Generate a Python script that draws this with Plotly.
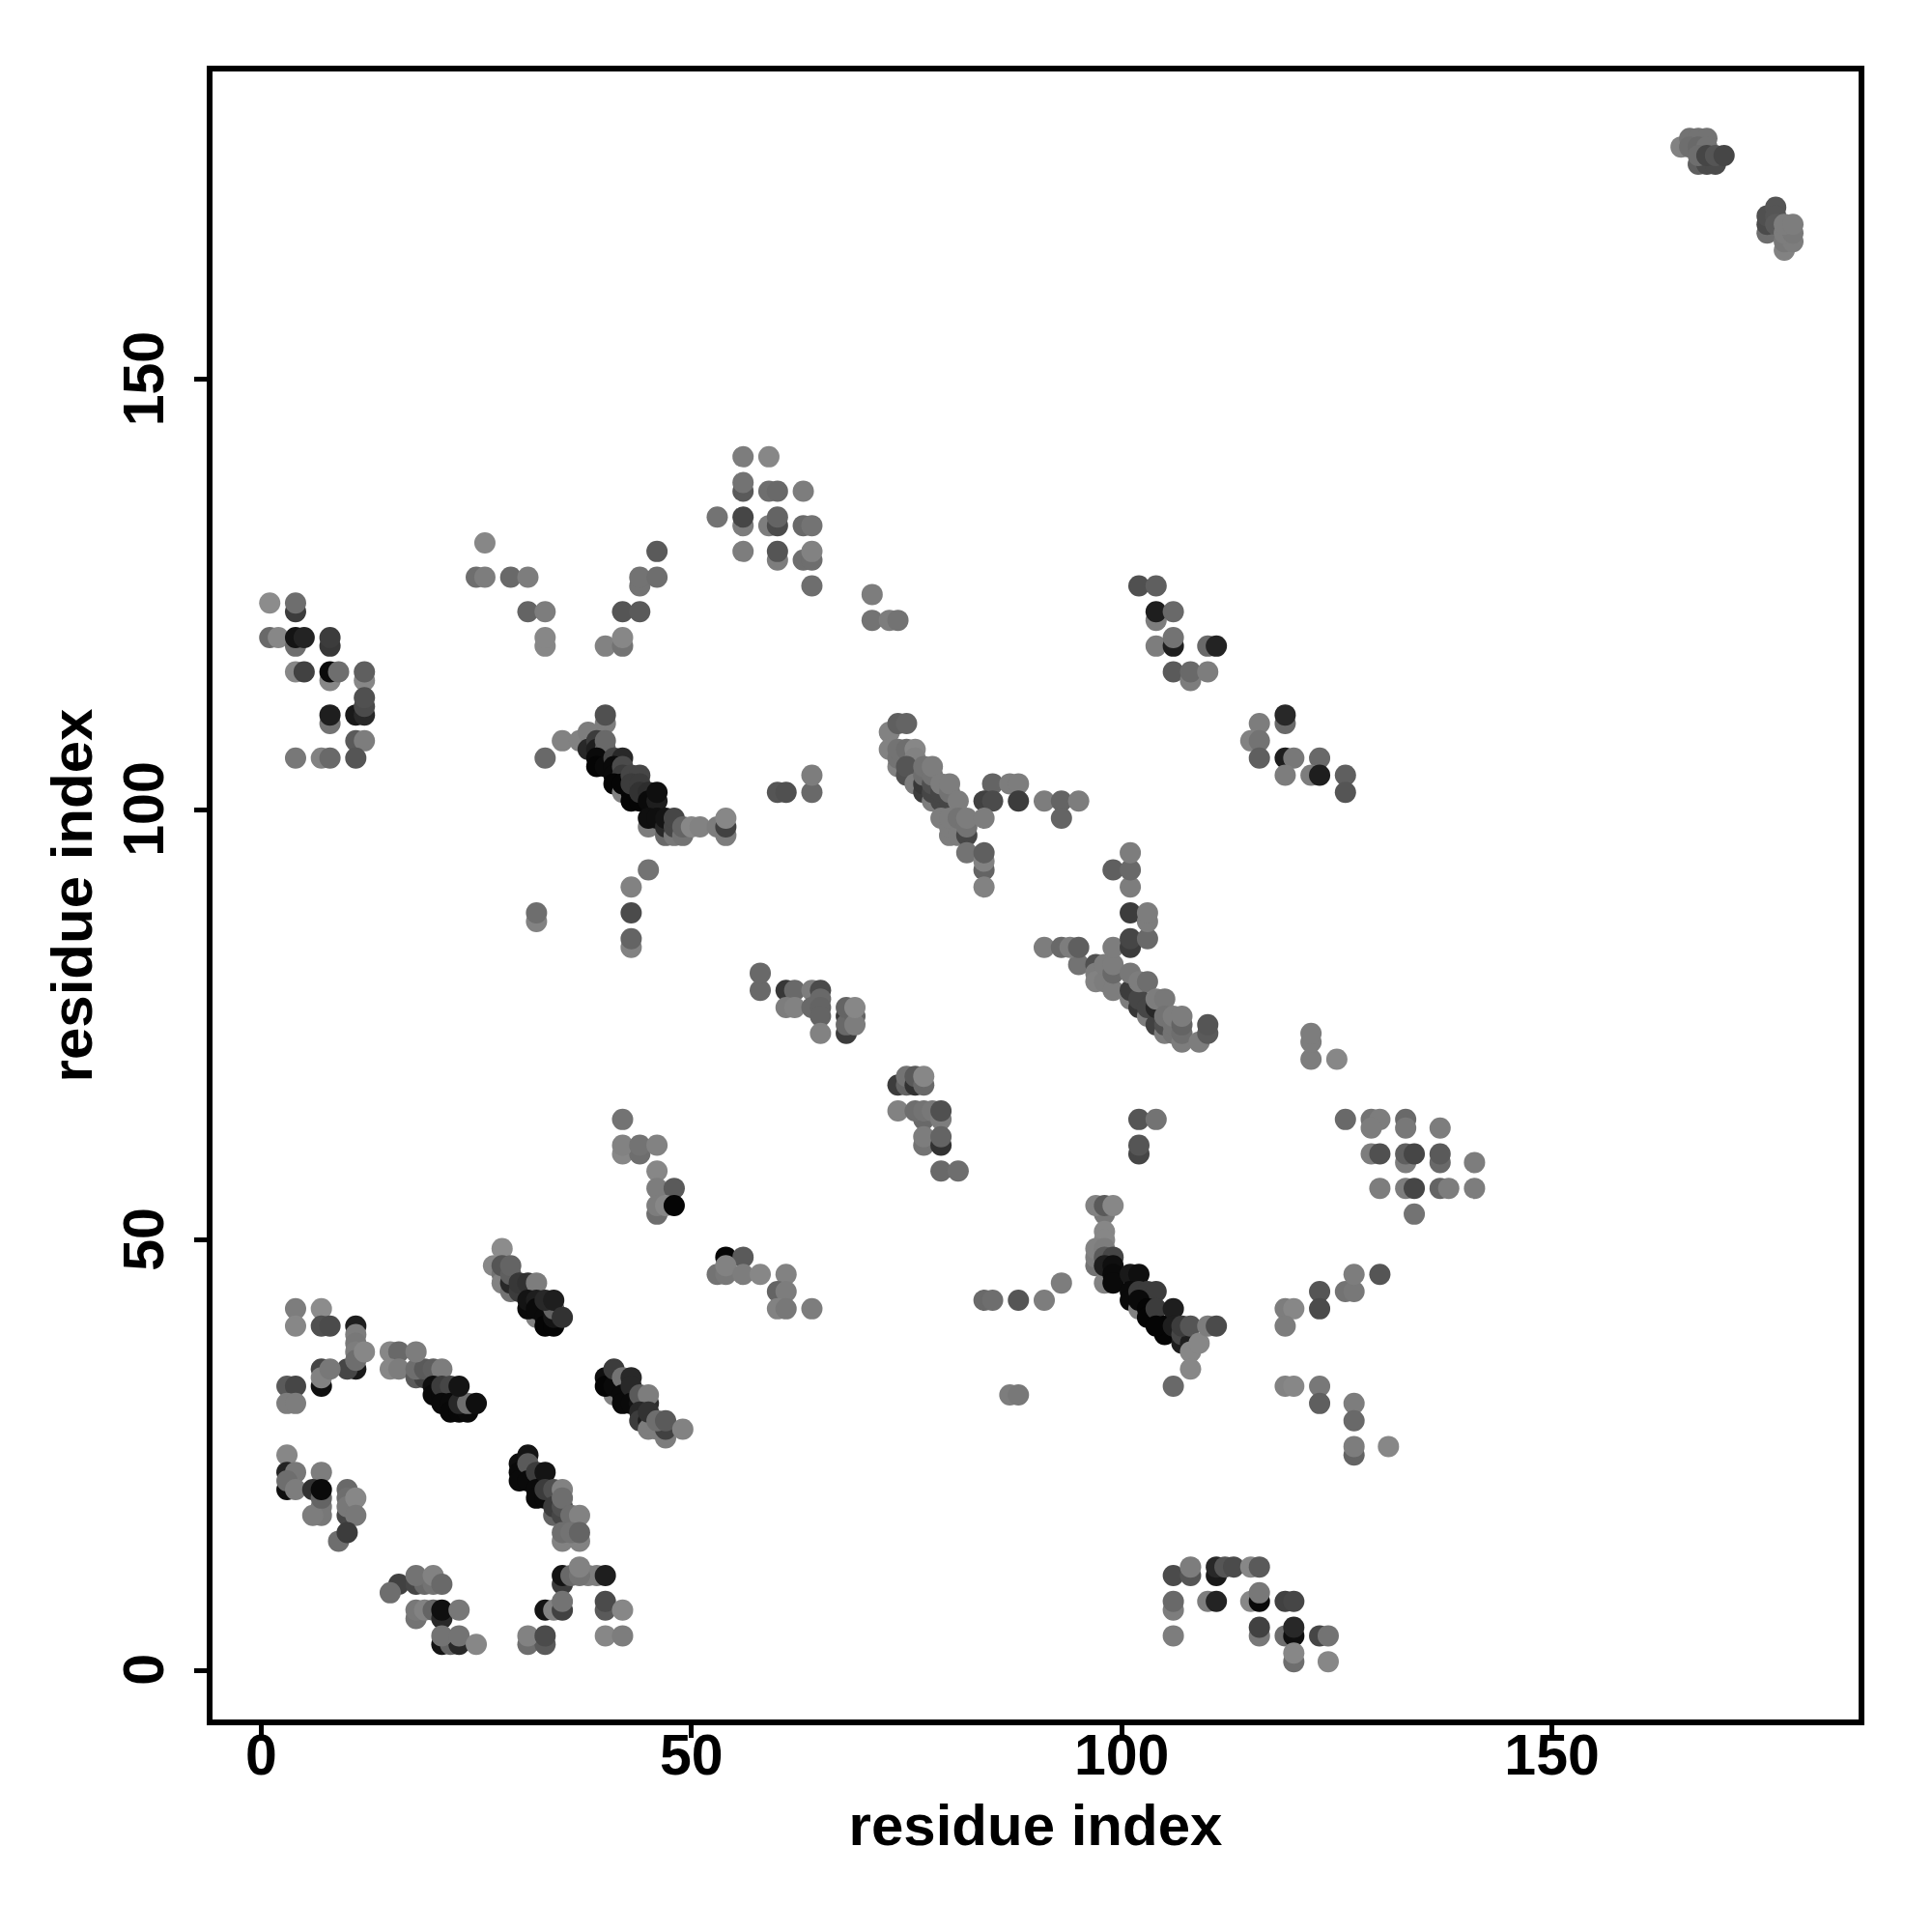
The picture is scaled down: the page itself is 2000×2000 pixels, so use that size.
import plotly.graph_objects as go

# each contact: (residue i, residue j, grey level)
low_left = [
(4,42,125),(7,42,140),(4,40,135),(7,40,80),(8,40,75),(11,35,25),(10,35,70),(11,40,30),(11,39,125),(11,38,120),(11,37,125),(11,36,110),(12,37,135),
(7,33,15),(7,35,70),(7,34,130),(8,35,120),(3,33,90),(4,33,70),(3,31,125),(4,31,125),
(15,37,135),(16,37,105),(15,35,135),(16,35,125),(18,34,90),(19,34,65),(18,35,110),(19,35,90),(18,37,125),(20,35,95),(21,35,125),
(20,33,15),(20,32,10),(21,32,10),(22,32,15),(21,33,60),(22,33,70),(21,31,10),(22,31,10),(22,30,8),(23,30,8),(24,30,10),(23,31,40),(24,31,110),(23,33,20),(25,31,15),
(3,25,135),(3,23,35),(4,23,120),(7,23,125),(3,21,15),(3,22,110),(4,21,125),(6,21,50),(7,19,120),(7,18,120),(6,18,125),(7,20,100),(7,21,10),
(10,18,70),(10,21,105),(10,20,110),(10,19,120),(11,20,135),(11,18,120),(9,15,110),(10,16,60),
(16,10,65),(15,9,110),(18,10,70),(19,10,105),(20,10,115),(18,11,115),(20,11,130),(21,10,105),
(18,6,115),(18,7,120),(19,7,130),(20,7,100),(21,6,40),(21,7,15),(23,7,120),
(21,3,20),(22,3,100),(23,3,40),(21,4,115),(23,4,115),(25,3,135),
(31,3,110),(33,3,90),(31,4,130),(33,4,75),
(35,10,60),(35,11,20),(36,11,105),(38,11,125),(39,11,125),(37,11,115),(37,12,130),(40,11,30),
(33,7,20),(34,7,130),(35,7,65),(35,8,115),(40,7,90),(40,8,75),(42,7,135),(40,4,135),(42,4,125),
]
low_mid = [
(30,24,15),(30,23,10),(30,22,10),(31,25,20),(31,24,90),(31,22,10),(32,23,60),(32,21,10),(32,20,10),(33,20,10),(33,23,20),(33,21,60),(34,21,80),(35,21,130),
(34,18,100),(34,19,60),(35,18,70),(35,19,80),(35,20,110),(36,18,110),(37,18,130),(35,15,130),(37,15,130),(35,16,110),(36,16,115),(37,16,100),
(27,47,135),(28,49,140),(28,46,115),(28,45,130),(29,44,115),(28,47,85),(29,45,40),(29,46,95),(29,47,100),(30,44,60),(30,45,55),(31,45,50),(32,45,125),
(32,41,130),(31,42,10),(31,43,20),(32,43,30),(32,42,10),(33,41,10),(33,40,5),(34,40,5),(34,41,20),(34,42,100),(33,43,40),(34,43,30),(35,41,50),
(41,32,130),(40,34,15),(40,33,5),(41,33,10),(41,35,60),(42,34,115),(43,34,40),(42,32,10),(42,31,10),(43,33,40),(43,31,10),(44,31,20),(45,31,45),(44,32,90),(45,32,125),
(44,30,40),(44,29,60),(45,29,30),(45,28,125),(45,30,50),(46,28,125),(47,27,125),(47,28,65),(46,29,110),(47,29,90),(49,28,130),
(42,64,115),(42,60,135),(44,60,110),(42,61,130),(44,61,115),(46,61,130),(46,58,135),(46,56,125),(48,56,90),(46,53,110),(46,54,125),(47,54,135),(48,54,5),
(54,48,5),(56,48,90),(53,46,115),(54,46,120),(54,47,130),(56,46,125),(58,46,135),(61,46,130),(60,44,100),(61,44,125),(60,42,130),(61,42,120),(64,42,125),
]
low_right = [
(98,53,120),(97,54,130),(98,54,90),(99,54,135),(98,51,135),(98,50,135),(97,47,115),(97,48,125),(97,49,130),(98,49,125),(98,48,90),(99,48,70),(98,45,130),(98,47,30),(99,47,15),(99,46,10),(99,45,10),
(101,46,25),(102,46,15),(101,44,10),(101,43,10),(102,44,60),(103,44,60),(104,44,60),(102,42,130),(102,43,10),(103,42,5),(103,41,5),(104,42,60),(105,40,5),(105,39,5),(104,40,5),(106,42,30),(107,38,30),(106,40,30),(107,39,70),(108,38,30),(107,40,60),(108,40,85),
(108,37,135),(109,38,135),(110,40,125),(111,40,75),(108,35,135),(106,33,105),
(119,42,125),(120,42,135),(119,40,125),(123,44,85),(123,42,75),(126,44,115),(127,44,120),(127,46,125),(130,46,85),
(119,33,130),(120,33,135),(123,33,120),(123,31,95),(127,31,125),(127,29,105),(127,25,100),(127,26,125),(131,26,135),
(84,43,105),(85,43,110),(88,43,85),(91,43,125),(93,45,125),(87,32,125),(88,32,120),
(106,11,75),(108,11,85),(108,12,125),(111,11,25),(111,12,40),(112,12,85),(113,12,75),(115,12,135),(116,12,90),
(106,7,125),(106,8,105),(110,8,125),(111,8,35),(115,8,135),(116,8,10),(116,9,120),(119,8,65),(120,8,70),
(106,4,125),(116,4,120),(116,5,65),(119,4,110),(120,4,15),(120,5,40),(123,4,70),(124,4,115),(120,1,110),(120,2,135),(124,1,135),
(130,56,125),(133,56,125),(134,56,70),(137,56,100),(138,56,125),(141,56,125),(134,53,115),
(126,64,105),(129,64,115),(130,64,125),(129,63,125),(133,64,105),(133,63,120),(137,63,125),(129,60,125),(130,60,80),(133,59,125),(133,60,95),(134,60,70),(137,59,105),(137,60,90),(141,59,125),
(102,60,70),(102,61,85),(102,64,85),(104,64,115),(122,71,125),(122,73,125),(122,74,125),(125,71,135),
]
mid_band = [
(58,79,105),(58,81,105),(61,79,55),(62,79,105),(64,79,125),(61,77,125),(62,77,130),(64,77,105),(65,79,75),(65,78,105),(65,77,100),(65,76,100),(65,74,130),
(68,74,60),(68,76,55),(68,75,105),(68,77,100),(69,76,100),(69,75,125),(69,77,135),
(74,68,60),(75,68,100),(75,69,115),(76,68,50),(76,69,90),(77,68,105),(77,69,135),(74,65,130),(77,64,105),(76,65,110),(77,65,115),(78,65,120),(79,64,125),(79,65,80),
(77,61,115),(77,62,125),(79,61,50),(79,62,100),(79,58,105),(81,58,110),
(95,82,115),(97,82,80),(97,81,125),(97,80,130),(98,80,125),(99,79,125),(98,82,125),(99,81,105),(99,82,125),
(101,78,125),(101,79,60),(102,77,55),(102,78,70),(103,76,125),(103,77,70),(104,75,65),(104,77,40),(101,81,120),(102,80,125),(103,80,110),(104,78,125),(105,78,120),
(105,74,125),(105,75,80),(105,76,115),(106,74,115),(106,75,115),(106,76,125),(107,73,125),(107,74,110),(107,75,100),(107,76,125),(109,73,125),(110,74,90),(110,75,85),
(91,84,125),(93,84,105),(94,84,125),(95,84,95),(99,84,125),(101,84,60),(101,85,70),(103,85,105),(101,88,60),(103,87,125),(103,88,125),(101,91,125),(99,93,95),(101,93,105),(101,95,125),
]
upper_a = [
(40,110,125),(40,111,80),(33,106,105),(35,108,130),(37,108,130),(38,109,125),(38,107,40),(39,108,60),(39,107,30),(40,107,95),(40,108,105),(39,106,10),(39,105,5),(40,105,10),
(41,106,70),(42,106,40),(41,105,10),(41,104,10),(42,105,75),(42,104,60),(41,103,5),(42,102,130),(42,103,5),(43,102,5),(43,101,5),(44,101,5),(43,104,70),(44,104,70),(43,103,60),(44,103,60),(44,102,50),(45,102,45),(45,101,10),(46,101,30),(46,102,15),
(45,98,125),(45,99,15),(46,99,15),(47,97,105),(47,98,40),(47,99,20),(48,97,120),(48,98,70),(48,99,70),(49,97,115),(49,98,100),(50,98,135),(51,98,130),(53,98,125),(54,97,125),(54,98,65),(54,99,135),
(45,93,115),(43,91,130),(43,88,75),(43,84,130),(43,85,100),(32,87,130),(32,88,110),
(60,102,85),(61,102,80),(64,102,105),(64,104,125),
(73,109,130),(74,110,95),(75,110,100),(73,107,130),(74,105,130),(74,106,115),(74,107,115),(75,107,110),(76,107,135),(76,106,130),(75,104,80),(75,105,85),(76,103,125),
(77,102,60),(77,103,55),(77,104,110),(77,105,115),(78,101,125),(78,102,70),(78,103,80),(78,104,115),(78,105,125),(79,101,70),(79,102,70),(79,103,125),(80,101,70),(80,102,115),(80,103,125),(81,101,125),
(79,99,125),(80,97,125),(80,98,125),(80,99,125),(81,97,125),(81,99,115),(82,97,70),(82,98,115),(82,99,125),(82,95,115),
(84,93,100),(84,94,130),(84,95,95),(84,91,130),(85,103,100),(87,103,125),(88,103,125),(84,101,65),(85,101,75),(88,101,60),(84,99,125),
(91,101,125),(93,101,100),(95,101,125),(93,99,100),
]
upper_b = [
(1,124,140),(4,123,60),(4,124,110),(1,120,105),(2,120,135),(4,119,110),(4,120,20),(5,120,35),(8,119,55),(8,120,60),
(4,116,135),(5,116,65),(8,115,135),(8,116,10),(9,116,110),(12,115,135),(12,116,95),
(11,111,25),(12,111,40),(12,112,75),(12,113,80),(8,110,115),(8,111,30),(11,108,90),(12,108,125),(4,106,120),(7,106,130),(8,106,105),(11,106,85),
(25,127,110),(26,127,125),(29,127,105),(31,127,125),(44,126,115),(44,127,115),(46,127,110),(26,131,135),(46,130,90),
(31,123,100),(33,123,125),(42,123,85),(44,123,90),(33,119,135),(33,120,135),(40,119,130),(42,119,115),(42,120,135),
(56,141,125),(59,141,135),(56,137,90),(56,138,115),(59,137,110),(60,137,105),(63,137,125),
(53,134,115),(56,133,125),(56,134,70),(59,133,125),(60,133,75),(60,134,100),(63,133,105),(64,133,115),
(56,130,125),(60,129,125),(60,130,85),(63,129,110),(64,129,110),(64,130,130),(64,126,110),
(71,125,125),(71,122,115),(73,122,125),(74,122,115),
(102,126,80),(104,126,95),(104,122,125),(104,123,30),(106,123,105),(104,119,125),(106,119,30),(106,120,115),(110,119,105),(111,119,35),
(106,116,90),(108,115,125),(108,116,105),(110,116,125),
(116,110,125),(119,110,105),(119,111,40),(115,108,130),(116,108,115),(116,106,95),(119,106,30),(120,106,120),(123,106,105),
(119,104,125),(122,104,125),(123,104,30),(126,104,95),(126,102,85),
]
top_right = [
(167,175,95),(168,175,75),(169,175,75),(165,177,130),(166,178,115),(167,178,115),(168,178,115),(166,177,110),(167,177,105),(168,177,115),(167,176,110),(168,176,70),(169,176,85),(170,176,70),
(175,167,110),(175,168,75),(175,169,80),(176,170,85),(176,169,85),(176,168,90),(177,165,130),(177,166,120),(178,166,125),(177,167,125),(178,167,120),(177,168,125),(178,168,125),
]
x_ticks = [0, 50, 100, 150]
y_ticks = [0, 50, 100, 150]
axis_title = "residue index"

points = low_left + low_mid + low_right + mid_band + upper_a + upper_b + top_right
res_i = [p[0] for p in points]
res_j = [p[1] for p in points]
grey = [f"rgb({p[2]},{p[2]},{p[2]})" for p in points]

FONT = "Liberation Sans"
fig = go.Figure(go.Scatter(x=res_i, y=res_j, mode="markers",
    marker=dict(size=22, color=grey, line=dict(width=0)), cliponaxis=True, showlegend=False))

def ax(vals, standoff, suffix=""):
    return dict(tickmode="array", tickvals=vals, ticktext=[f"<b>{v}{suffix}</b>" for v in vals],
        ticks="outside", ticklen=13, tickwidth=5, tickcolor="black", ticklabelstandoff=standoff,
        showline=True, linecolor="black", linewidth=6, mirror=True,
        showgrid=False, zeroline=False, tickfont=dict(family=FONT, size=59, color="black"))

fig.update_layout(width=2000, height=2000, autosize=False, paper_bgcolor="white", plot_bgcolor="white",
    margin=dict(l=212, r=84, t=66, b=228),
    xaxis=dict(ax(x_ticks, -33), range=[-5.65, 185.63], title=dict(text=f"<b>{axis_title}</b>", font=dict(family=FONT, size=60, color="black"), standoff=21)),
    yaxis=dict(ax(y_ticks, 8, "\u00a0"), range=[-5.72, 185.77], tickangle=-90, title=dict(text=f"<b>{axis_title}</b>", font=dict(family=FONT, size=60, color="black"), standoff=3)))
fig.write_html("out.html")
